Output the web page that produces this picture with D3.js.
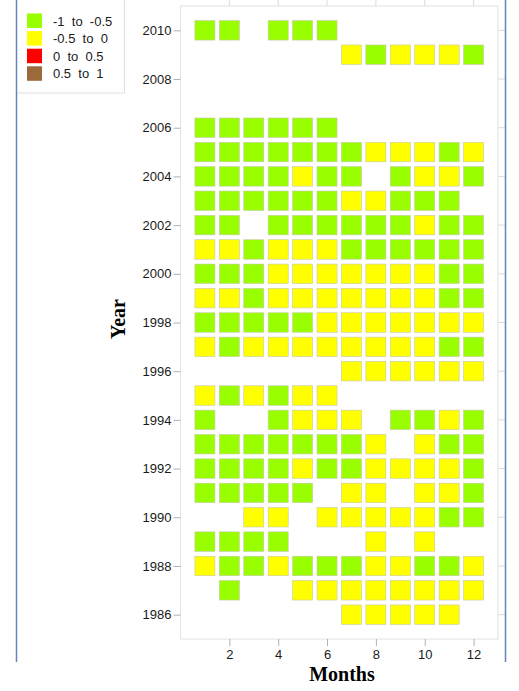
<!DOCTYPE html>
<html>
<head>
<meta charset="utf-8">
<script src="https://cdn.jsdelivr.net/npm/d3@7"></script>
<style>
  html, body { margin: 0; padding: 0; background: #fff; }
  svg { display: block; }
</style>
</head>
<body>
<svg id="chart" width="519" height="691"></svg>
<script>
// ---- data ----
const months = [1,2,3,4,5,6,7,8,9,10,11,12];
const years = [2010,2009,2008,2007,2006,2005,2004,2003,2002,2001,2000,1999,1998,
               1997,1996,1995,1994,1993,1992,1991,1990,1989,1988,1987,1986];
// class codes per month: G = "-1 to -0.5", Y = "-0.5 to 0", R = "0 to 0.5", B = "0.5 to 1", . = no data
const yearCodes = [
  "GG.GGG......", // 2010
  "......YGYYYG", // 2009
  "............", // 2008
  "............", // 2007
  "GGGGGG......", // 2006
  "GGGGGGGYYYGY", // 2005
  "GGGGYGG.GYYG", // 2004
  "GGGGGGYYGGG.", // 2003
  "GG.GGGGGGYGG", // 2002
  "YYGYYYGGGGGG", // 2001
  "GGGYYYYYYYGG", // 2000
  "YYGYYYYYYYGG", // 1999
  "GGGGGYYYYYYY", // 1998
  "YGYYYYYYYYGG", // 1997
  "......YYYYYY", // 1996
  "YGYGYY......", // 1995
  "G..GYYY.GGYG", // 1994
  "GGGGGGGY.YGG", // 1993
  "GGGGYGGYYYYG", // 1992
  "GGGGG.YY.YYG", // 1991
  "..YY.YYYYYGG", // 1990
  "GGGG...Y.Y..", // 1989
  "YGGYGGGYYGGY", // 1988
  ".G..YYYYYYYY", // 1987
  "......YYYYY."  // 1986
];
const categoryCodes = ["G","Y","R","B"];
const categoryLabels = ["-1  to  -0.5", "-0.5  to  0", "0  to  0.5", "0.5  to  1"];
const categoryColors = ["#99FF00", "#FFFF00", "#FF0000", "#9C6A3A"];
const xTicks = [2,4,6,8,10,12];
const yTicks = [1986,1988,1990,1992,1994,1996,1998,2000,2002,2004,2006,2008,2010];

// ---- drawing ----
const svg = d3.select("#chart");
const panel = {left: 180.5, right: 498, top: 6, bottom: 639};

const x = d3.scaleLinear().domain([0, 13]).range([panel.left, panel.right]);
const y = d3.scaleLinear().domain([1985, 2011]).range([panel.bottom, panel.top]);
const color = d3.scaleOrdinal().domain(categoryCodes).range(categoryColors);

// outside grid stubs (top and right)
svg.append("g").selectAll("line").data(xTicks).join("line")
  .attr("x1", d => x(d)).attr("x2", d => x(d))
  .attr("y1", 0).attr("y2", panel.top)
  .attr("stroke", "#dcdcdc").attr("stroke-width", 1);
svg.append("g").selectAll("line").data(yTicks).join("line")
  .attr("x1", panel.right).attr("x2", 505)
  .attr("y1", d => y(d)).attr("y2", d => y(d))
  .attr("stroke", "#dcdcdc").attr("stroke-width", 1);

// panel
svg.append("rect")
  .attr("x", panel.left).attr("y", panel.top)
  .attr("width", panel.right - panel.left).attr("height", panel.bottom - panel.top)
  .attr("fill", "#fff").attr("stroke", "#e2e2e2").attr("stroke-width", 1);

// cells
const cells = [];
years.forEach((yr, i) => {
  months.forEach((m, j) => {
    const c = yearCodes[i][j];
    if (c !== ".") cells.push({year: yr, month: m, code: c});
  });
});
const cw = (x(1) - x(0)) * 0.82;
const ch = (y(0) - y(1)) * 0.80;
svg.append("g").selectAll("rect").data(cells).join("rect")
  .attr("x", d => x(d.month) - cw / 2)
  .attr("y", d => y(d.year) - ch / 2)
  .attr("width", cw).attr("height", ch)
  .attr("fill", d => color(d.code))
  .attr("stroke", "#c8c8a8").attr("stroke-width", 0.6);

// axes
const yAxis = svg.append("g")
  .attr("transform", `translate(${panel.left},0)`)
  .call(d3.axisLeft(y).tickValues(yTicks).tickFormat(d3.format("d")).tickSize(7).tickPadding(2).tickSizeOuter(0));
const xAxis = svg.append("g")
  .attr("transform", `translate(0,${panel.bottom})`)
  .call(d3.axisBottom(x).tickValues(xTicks).tickFormat(d3.format("d")).tickSize(7).tickPadding(4).tickSizeOuter(0));
[xAxis, yAxis].forEach(a => {
  a.select(".domain").remove();
  a.selectAll(".tick line").attr("stroke", "#b0b0b0");
  a.selectAll(".tick text")
    .attr("font-family", "'Liberation Sans', Arial, sans-serif")
    .attr("font-size", 13).attr("fill", "#1a1a1a");
});

// axis titles
svg.append("text")
  .attr("x", 342).attr("y", 681)
  .attr("text-anchor", "middle")
  .attr("font-family", "'Liberation Serif', 'Times New Roman', serif")
  .attr("font-weight", "bold").attr("font-size", 20).attr("fill", "#000")
  .text("Months");
svg.append("text")
  .attr("transform", "translate(125,319) rotate(-90)")
  .attr("text-anchor", "middle")
  .attr("font-family", "'Liberation Serif', 'Times New Roman', serif")
  .attr("font-weight", "bold").attr("font-size", 20).attr("fill", "#000")
  .text("Year");

// legend
svg.append("rect")
  .attr("x", 16.5).attr("y", -2).attr("width", 108).attr("height", 95)
  .attr("fill", "#fff").attr("stroke", "#dedede").attr("stroke-width", 1);
const lg = svg.append("g").selectAll("g").data(categoryCodes).join("g")
  .attr("transform", (d, i) => `translate(27,${13.5 + i * 17.6})`);
lg.append("rect").attr("width", 15).attr("height", 14.5)
  .attr("fill", d => color(d));
lg.append("text")
  .attr("x", 26).attr("y", 12)
  .attr("font-family", "'Liberation Sans', Arial, sans-serif")
  .attr("font-size", 13).attr("fill", "#1a1a1a")
  .attr("xml:space", "preserve").style("white-space", "pre")
  .text((d, i) => categoryLabels[i]);

// frame lines (blue)
svg.append("line").attr("x1", 16.5).attr("x2", 16.5).attr("y1", 0).attr("y2", 662)
  .attr("stroke", "#5f87bd").attr("stroke-width", 1.5);
svg.append("line").attr("x1", 505.5).attr("x2", 505.5).attr("y1", 0).attr("y2", 662)
  .attr("stroke", "#5f87bd").attr("stroke-width", 1.5);
</script>
</body>
</html>
